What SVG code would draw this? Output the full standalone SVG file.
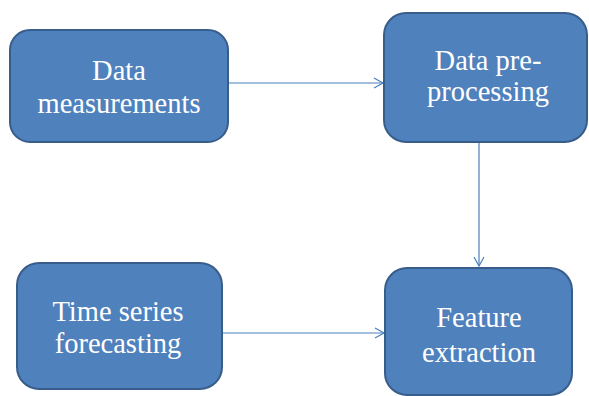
<svg xmlns="http://www.w3.org/2000/svg" width="589" height="396" viewBox="0 0 589 396">
<style>
.box{fill:#4F81BD;stroke:#385D8A;stroke-width:2}
.lbl{fill:#FFFFFF;font-family:"Liberation Serif","Times New Roman",serif;font-size:28.5px;text-anchor:middle}
.conn{stroke:#4A7EBB;stroke-width:1.2;fill:none}
</style>
<defs>
<marker id="arr" markerWidth="12" markerHeight="12" refX="10" refY="6" orient="auto" markerUnits="userSpaceOnUse">
<path d="M1,1 L10,6 L1,11" fill="none" stroke="#4A7EBB" stroke-width="1.2"/>
</marker>
</defs>
<rect width="589" height="396" fill="#FFFFFF"/>
<g id="connectors">
<line class="conn" x1="228" y1="83" x2="383" y2="83" marker-end="url(#arr)"/>
<line class="conn" x1="479" y1="142" x2="479" y2="266" marker-end="url(#arr)"/>
<line class="conn" x1="222" y1="333" x2="384" y2="333" marker-end="url(#arr)"/>
</g>
<g id="data-measurements">
<rect class="box" x="10" y="30" width="218" height="112" rx="20"/>
<text class="lbl" x="119" y="80">Data</text>
<text class="lbl" x="119" y="113">measurements</text>
</g>
<g id="data-preprocessing">
<rect class="box" x="384" y="13" width="203" height="129" rx="22"/>
<text class="lbl" x="488" y="70">Data pre-</text>
<text class="lbl" x="488" y="101">processing</text>
</g>
<g id="feature-extraction">
<rect class="box" x="385" y="268" width="187" height="127" rx="22"/>
<text class="lbl" x="479" y="327">Feature</text>
<text class="lbl" x="479" y="362">extraction</text>
</g>
<g id="time-series-forecasting">
<rect class="box" x="17" y="263" width="205" height="126" rx="22"/>
<text class="lbl" x="118" y="321">Time series</text>
<text class="lbl" x="118" y="353">forecasting</text>
</g>
</svg>
